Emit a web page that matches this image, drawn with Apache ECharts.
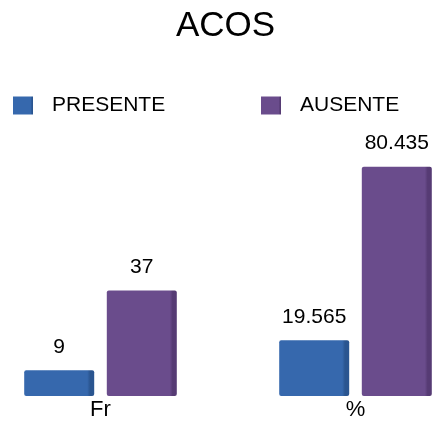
<!DOCTYPE html>
<html>
<head>
<meta charset="utf-8">
<script src="https://cdn.jsdelivr.net/npm/echarts@6/dist/echarts.min.js"></script>
<style>html,body{margin:0;padding:0;background:#fff}#c{width:436px;height:424px}</style>
</head>
<body>
<div id="c"></div>
<script>
const titleText = 'ACOS';
const categories = ['Fr', '%'];
const seriesNames = ['PRESENTE', 'AUSENTE'];
const presente = [9, 19.565];
const ausente = [37, 80.435];

function barGrad(main, dark) {
  return new echarts.graphic.LinearGradient(0, 0, 1, 0, [
    {offset: 0, color: main}, {offset: 0.9, color: main},
    {offset: 0.94, color: dark}, {offset: 1, color: dark}
  ]);
}
const chart = echarts.init(document.getElementById('c'));
const font = 'Liberation Sans, Arial, sans-serif';
chart.setOption({
  animation: false,
  backgroundColor: '#ffffff',
  title: {text: titleText, left: 171, top: 4, textStyle: {fontFamily: font, fontSize: 35, fontWeight: 'normal', color: '#000'}},
  legend: [
    {data: [seriesNames[0]], left: 13, top: 95, padding: 0, itemWidth: 20, itemHeight: 18, icon: 'rect',
     textStyle: {fontFamily: font, fontSize: 21, color: '#000', padding: [0, 0, 0, 14]}},
    {data: [seriesNames[1]], left: 261, top: 95, padding: 0, itemWidth: 20, itemHeight: 18, icon: 'rect',
     textStyle: {fontFamily: font, fontSize: 21, color: '#000', padding: [0, 0, 0, 14]}}
  ],
  grid: {left: -27, width: 510, top: 111, bottom: 28, outerBoundsMode: 'none', containLabel: false},
  xAxis: {type: 'category', data: categories, axisLine: {show: false}, axisTick: {show: false},
    axisLabel: {fontFamily: font, fontSize: 22, color: '#000', margin: 3}},
  yAxis: {type: 'value', min: 0, max: 100, show: false, splitLine: {show: false}},
  series: [
    {name: seriesNames[0], type: 'bar', data: presente, barWidth: 70, barGap: '18%',
     itemStyle: {color: barGrad('#3668ad', '#2a5590'), borderRadius: 2},
     label: {show: true, position: 'top', distance: 13, fontFamily: font, fontSize: 21, color: '#000'}},
    {name: seriesNames[1], type: 'bar', data: ausente, barWidth: 70,
     itemStyle: {color: barGrad('#6a4c8c', '#563b74'), borderRadius: 2},
     label: {show: true, position: 'top', distance: 13, fontFamily: font, fontSize: 21, color: '#000'}}
  ]
});
</script>
</body>
</html>
